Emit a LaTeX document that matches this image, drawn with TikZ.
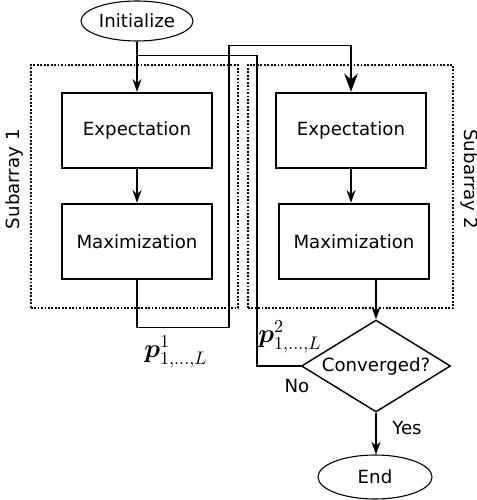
\documentclass[tikz,border=0pt]{standalone}
\usepackage{amsmath}
\usepackage{amsfonts}
\usepackage{fontspec}
\setmainfont{DejaVu Sans}
\usetikzlibrary{arrows.meta,shapes.geometric,calc}

\begin{document}
\begin{tikzpicture}[x=0.55pt, y=-0.55pt, >={Stealth[length=7pt,width=5pt]},
	block/.style={draw, line width=1.3pt, minimum width=82.5pt, minimum height=41.3pt, inner sep=0pt},
	term/.style={draw, ellipse, line width=0.6pt, inner sep=0pt},
	subbox/.style={draw, line width=1pt, dash pattern=on 1pt off 0.9pt, inner sep=0pt},
	link/.style={line width=0.8pt}]
	\useasboundingbox (0,0) rectangle (476,500);
	% subarrays
	\node[subbox, minimum width=114pt, minimum height=133.6pt] (sub1) at (134.4,186.5) {};
	\node[subbox, minimum width=112.9pt, minimum height=133.6pt] (sub2) at (350.4,186.5) {};
	\node[rotate=90, anchor=south] (lab1) at ([yshift=4pt]sub1.west) {Subarray 1};
	\node[rotate=-90, anchor=south] (lab2) at ([yshift=4pt]sub2.east) {Subarray 2};
	% flow
	\node[term, minimum width=61.6pt, minimum height=22pt] (init) at (137,21) {Initialize};
	\node[block] (exp1) at (137,130.5) {Expectation};
	\node[block] (max1) at (137,241.5) {Maximization};
	\node[block] (exp2) at (351,130.5) {Expectation};
	\node[block] (max2) at (354,241.5) {Maximization};
	\node[draw, diamond, aspect=1.6, inner sep=0pt, line width=0.8pt, minimum width=82pt, minimum height=50.6pt] (conv) at (376,366) {Converged?};
	\node[term, minimum width=62.7pt, minimum height=24.2pt] (end) at (375,477) {End};
	\draw[link,->] (init) -- (exp1);
	\draw[link,->] (exp1) -- (max1);
	\draw[link,->] (exp2.south) -- (exp2.south |- max2.north);
	\draw[link,->] (max2.south -| conv.north) -- (conv.north);
	\draw[link,->] (conv.south) -- (conv.south |- end.north);
	% exchange between subarrays
	\coordinate (up1) at (229,327.7);
	\coordinate (top1) at (229,45.7);
	\draw[link,-{Stealth[length=10pt,width=7.5pt]}] (max1.south) |- (up1) -- (top1) -| (exp2.north);
	\coordinate (back) at (257,55.7);
	\draw[link] (conv.west) -| (back) -- (back -| init);
	% labels
	\node (p1) at (176,352) {\Large$\boldsymbol{p}^1_{1,\ldots,L}$};
	\node[anchor=west, inner sep=0pt] (p2) at (258,337) {\Large$\boldsymbol{p}^2_{1,\ldots,L}$};
	\node (no) at (297,386) {No};
	\node (yes) at (407,428) {Yes};
\end{tikzpicture}
\end{document}
